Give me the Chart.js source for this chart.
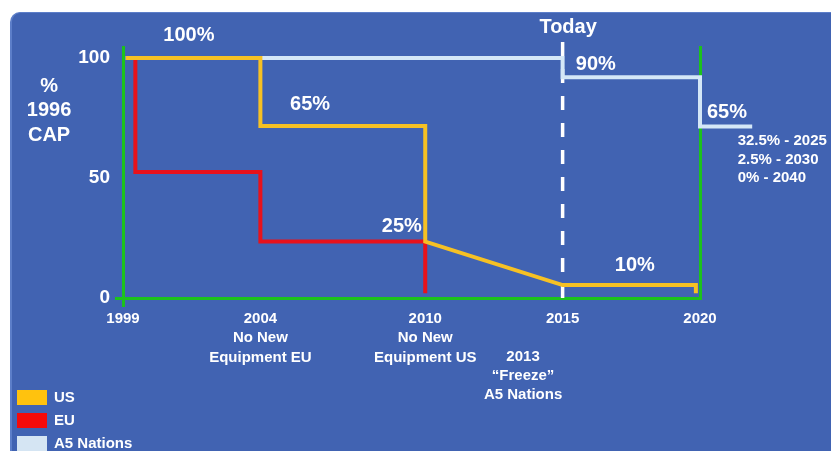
<!DOCTYPE html>
<html>
<head>
<meta charset="utf-8">
<script src="https://cdn.jsdelivr.net/npm/chart.js@4.4.1/dist/chart.umd.min.js"></script>
<style>
  html, body { margin: 0; padding: 0; background: #ffffff; }
  #wrap { position: relative; width: 831px; height: 451px; overflow: hidden; }
  #panel {
    position: absolute; left: 10px; top: 12px; width: 830px; height: 450px;
    background: #4163b2; border-radius: 10px;
    border-left: 2px solid #5c7ec9; border-top: 1px solid #5c7ec9;
  }
  canvas { position: absolute; left: 0; top: 0; }
</style>
</head>
<body>
<div id="wrap">
  <div id="panel"></div>
  <canvas id="cap-chart" width="831" height="451"></canvas>
</div>
<script>
// Values (y in % of 1996 CAP, x in years).
const usYears = [1999.1, 2004, 2004, 2010, 2010, 2015, 2019.85, 2019.85];
const usValues = [100, 100, 71.7, 71.7, 23.5, 5.4, 5.4, 2];

const euYears = [1999.45, 1999.45, 2004, 2004, 2010, 2010];
const euValues = [100, 52.5, 52.5, 23.5, 23.5, 2];

const a5Years = [1999.1, 2015, 2015, 2020, 2020, 2021.9];
const a5Values = [100, 100, 92, 92, 71.5, 71.5];

const todayYears = [2015, 2015];
const todayValues = [106.7, 0];

const xRange = [1999, 2020];
const xTickValues = [1999, 2004, 2010, 2015, 2020];
const xTickLabels = [
  ["1999"],
  ["2004", "No New", "Equipment EU"],
  ["2010", "No New", "Equipment US"],
  ["2015"],
  ["2020"]
];
const yTickValues = [0, 50, 100];

const seriesNames = ["US", "EU", "A5 Nations"];

const GREEN = "#1cc21c";
const NONE = "rgba(0,0,0,0)";
const FONT = "'Liberation Sans', Arial, sans-serif";

// Text notes placed in chart units so they follow the scales.
const notes = [
  { lines: ["100%"], x: 2001.4, y: 109.6, size: 20 },
  { lines: ["65%"], x: 2005.81, y: 80.6, size: 20 },
  { lines: ["25%"], x: 2009.15, y: 29.6, size: 20 },
  { lines: ["Today"], x: 2015.2, y: 112.7, size: 20 },
  { lines: ["90%"], x: 2016.21, y: 97.5, size: 20 },
  { lines: ["65%"], x: 2020.98, y: 77.3, size: 20 },
  { lines: ["10%"], x: 2017.63, y: 13.75, size: 20 },
  { lines: ["32.5% - 2025", "2.5% - 2030", "0% - 2040"], x: 2021.37, y: 65.4, size: 15, lineHeight: 18.5, align: "left" },
  { lines: ["%", "1996", "CAP"], x: 1996.31, y: 88.3, size: 20, lineHeight: 24.5 },
  { lines: ["2013", "\u201CFreeze\u201D", "A5 Nations"], x: 2013.56, y: -24.4, size: 15, lineHeight: 19 }
];

function toPoints(xs, ys) {
  return xs.map((x, i) => ({ x, y: ys[i] }));
}

const notesPlugin = {
  id: "notes",
  afterDraw(chart) {
    const { ctx } = chart;
    const xs = chart.scales.x;
    const ys = chart.scales.y;
    ctx.save();
    ctx.fillStyle = "#ffffff";
    ctx.textBaseline = "middle";
    notes.forEach((note) => {
      const px = xs.getPixelForValue(note.x);
      const py = ys.getPixelForValue(note.y);
      ctx.font = `bold ${note.size}px ${FONT}`;
      ctx.textAlign = note.align || "center";
      note.lines.forEach((line, i) => {
        ctx.fillText(line, px, py + i * (note.lineHeight || 0));
      });
    });
    ctx.restore();
  }
};

// Stacked legend in the bottom-left corner, built from the datasets.
const legendPlugin = {
  id: "stackedLegend",
  afterDraw(chart) {
    const { ctx } = chart;
    ctx.save();
    ctx.font = `bold 15px ${FONT}`;
    ctx.textAlign = "left";
    ctx.textBaseline = "middle";
    seriesNames.forEach((name, i) => {
      const ds = chart.data.datasets[i];
      const top = 390 + i * 23;
      ctx.fillStyle = ds.backgroundColor;
      ctx.fillRect(17, top, 30, 15);
      ctx.fillStyle = "#ffffff";
      ctx.fillText(ds.label, 54, top + 8);
    });
    ctx.restore();
  }
};

// The x range is set in hooks rather than min/max so that the A5 line can
// run past 2020 (Chart.js drops points beyond a user-defined max).
function fixXRange(scale) {
  scale.min = xRange[0];
  scale.max = xRange[1];
}

new Chart(document.getElementById("cap-chart"), {
  type: "line",
  data: {
    datasets: [
      {
        label: seriesNames[0],
        data: toPoints(usYears, usValues),
        borderColor: "#f6c124",
        backgroundColor: "#ffc20e",
        borderWidth: 4
      },
      {
        label: seriesNames[1],
        data: toPoints(euYears, euValues),
        borderColor: "#e8121b",
        backgroundColor: "#f50a0a",
        borderWidth: 4
      },
      {
        label: seriesNames[2],
        data: toPoints(a5Years, a5Values),
        borderColor: "#d4e7f7",
        backgroundColor: "#d5e5f3",
        borderWidth: 4,
        clip: false
      },
      {
        label: "Today",
        data: toPoints(todayYears, todayValues),
        borderColor: "#ffffff",
        borderWidth: 3.5,
        borderDash: [14, 13],
        clip: false
      }
    ]
  },
  options: {
    responsive: false,
    animation: false,
    layout: { padding: { top: 47, left: 0, right: 0, bottom: 0 } },
    elements: {
      point: { radius: 0, hoverRadius: 0 },
      line: { tension: 0, fill: false, borderCapStyle: "butt", borderJoinStyle: "miter" }
    },
    plugins: {
      legend: { display: false },
      tooltip: { enabled: false }
    },
    scales: {
      x: {
        type: "linear",
        bounds: "data",
        afterDataLimits: fixXRange,
        afterBuildTicks: (scale) => {
          fixXRange(scale);
          scale.ticks = xTickValues.map((value) => ({ value }));
        },
        afterFit: (scale) => {
          scale.height = 153;
        },
        ticks: {
          color: "#ffffff",
          font: { family: FONT, size: 15, weight: "bold", lineHeight: 1.3 },
          padding: 2,
          maxRotation: 0,
          autoSkip: false,
          callback: (value) => xTickLabels[xTickValues.indexOf(value)]
        },
        grid: {
          drawOnChartArea: false,
          drawTicks: true,
          tickLength: 9,
          lineWidth: 3,
          color: (c) => (c.tick && c.tick.value === 1999 ? GREEN : NONE)
        },
        border: { color: GREEN, width: 3 }
      },
      y: {
        min: 0,
        max: 104.6,
        afterBuildTicks: (scale) => {
          scale.ticks = yTickValues.map((value) => ({ value }));
        },
        afterFit: (scale) => {
          scale.width = 123;
        },
        ticks: {
          color: "#ffffff",
          font: { family: FONT, size: 19, weight: "bold" },
          padding: 5
        },
        grid: {
          drawOnChartArea: false,
          drawTicks: true,
          tickLength: 8,
          lineWidth: 3,
          color: (c) => (c.tick && c.tick.value === 0 ? GREEN : NONE)
        },
        border: { color: GREEN, width: 3 }
      },
      y2: {
        position: "right",
        min: 0,
        max: 104.6,
        afterFit: (scale) => {
          scale.width = 131;
        },
        ticks: { display: false },
        grid: { display: false },
        border: { display: true, color: GREEN, width: 3 }
      }
    }
  },
  plugins: [notesPlugin, legendPlugin]
});
</script>
</body>
</html>
